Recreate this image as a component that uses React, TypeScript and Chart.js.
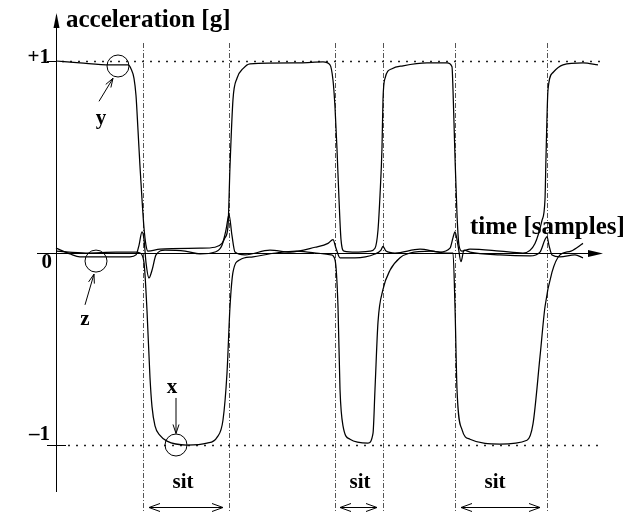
import React, { useEffect, useRef } from "react";
import { Chart, registerables } from "chart.js";
Chart.register(...registerables);

// ---- data (time in samples, acceleration in g) ----
const yTime = [0, 24, 54, 72, 75, 78, 80, 82, 84, 86, 88, 90, 92, 104, 144, 159, 166, 169, 172, 174, 177, 181, 187, 194, 244, 267, 274, 277, 279, 281, 283, 285, 288, 300, 314, 319, 322, 324, 326, 327, 329, 336, 347, 371, 391, 396, 397, 399, 401, 403, 406, 414, 444, 467, 479, 486, 489, 490, 492, 497, 507, 527, 542];
const yAccel = [1.0, 0.99, 0.98, 0.98, 0.96, 0.91, 0.82, 0.64, 0.45, 0.28, 0.13, 0.04, 0.01, 0.02, 0.025, 0.03, 0.05, 0.08, 0.14, 0.45, 0.8, 0.91, 0.96, 0.985, 0.99, 0.995, 0.98, 0.9, 0.76, 0.54, 0.28, 0.07, 0.01, 0.005, 0.01, 0.025, 0.12, 0.3, 0.55, 0.8, 0.91, 0.96, 0.975, 0.99, 0.99, 0.97, 0.85, 0.5, 0.2, 0.04, 0.01, 0.02, 0.01, 0.0, 0.05, 0.17, 0.28, 0.5, 0.85, 0.94, 0.98, 0.99, 0.98];

const xTime = [0, 30, 60, 80, 84, 88, 91, 94, 96, 99, 104, 111, 131, 151, 161, 167, 171, 174, 177, 184, 197, 220, 240, 260, 275, 279, 282, 284, 287, 294, 312, 317, 319, 322, 327, 334, 344, 354, 375, 390, 397, 399, 401, 406, 414, 444, 471, 477, 484, 489, 496, 504, 515, 527];
const xAccel = [0.01, 0.0, 0.005, 0.005, 0.0, -0.05, -0.3, -0.65, -0.8, -0.9, -0.95, -0.98, -1.0, -0.99, -0.96, -0.87, -0.625, -0.28, -0.1, -0.035, -0.02, 0.0, 0.01, 0.0, -0.01, -0.035, -0.28, -0.71, -0.9, -0.97, -0.99, -0.94, -0.71, -0.36, -0.19, -0.09, -0.025, 0.0, 0.01, 0.0, 0.0, -0.28, -0.71, -0.92, -0.97, -0.995, -0.975, -0.89, -0.54, -0.28, -0.1, -0.01, 0.01, 0.05];

const zTime = [0, 14, 24, 74, 80, 83, 86, 88, 90, 93, 96, 100, 109, 129, 144, 159, 166, 170, 173, 176, 179, 189, 214, 234, 259, 272, 277, 280, 284, 299, 319, 325, 327, 330, 339, 364, 384, 394, 397, 399, 402, 405, 408, 414, 444, 474, 484, 489, 491, 493, 496, 504, 519, 527];
const zAccel = [0.025, -0.005, -0.02, -0.02, -0.01, 0.04, 0.11, 0.07, -0.05, -0.13, -0.09, -0.01, 0.015, 0.01, -0.005, 0.005, 0.04, 0.12, 0.2, 0.09, 0.005, -0.01, 0.015, 0.005, 0.03, 0.05, 0.07, 0.025, -0.025, -0.025, -0.005, 0.015, 0.035, 0.01, 0.0, 0.02, 0.005, 0.025, 0.08, 0.11, 0.04, -0.045, 0.015, 0.005, -0.01, -0.015, 0.005, 0.07, 0.085, 0.04, -0.01, -0.02, -0.01, -0.025];

// segment boundaries (samples) and "sit" intervals
const segmentBounds = [87, 173, 279, 327, 399, 491];
const sitStart = [93, 284, 405];
const sitEnd = [167, 321, 484];
const sitLabelT = [127, 304, 439];
const sitLabel = "sit";

// level ticks
const levelValues = [1, 0, -1];
const levelLabels = ["+1", "0", "\u20131"];

// axis markers (circles with arrows)
const markerNames = ["y", "z", "x"];
const markerT = [62, 40, 120];
const markerV = [0.974, -0.042, -1.0];
const markerLabelT = [45, 29, 116];
const markerLabelV = [0.672, -0.375, -0.729];
const arrowFromT = [43, 29, 120];
const arrowFromV = [0.79, -0.27, -0.755];
const arrowToT = [57, 38, 120];
const arrowToV = [0.91, -0.11, -0.94];

const yTitle = "acceleration [g]";
const xTitle = "time [samples]";

const SERIF = '"Liberation Serif", "Times New Roman", serif';

function openHead(ctx: CanvasRenderingContext2D, fx: number, fy: number, tx: number, ty: number, len: number, half: number) {
  const a = Math.atan2(ty - fy, tx - fx);
  const ang = Math.atan2(half, len);
  const l = Math.hypot(len, half);
  ctx.beginPath();
  ctx.moveTo(tx - l * Math.cos(a - ang), ty - l * Math.sin(a - ang));
  ctx.lineTo(tx, ty);
  ctx.lineTo(tx - l * Math.cos(a + ang), ty - l * Math.sin(a + ang));
  ctx.stroke();
}

const figurePlugin = {
  id: "figure",
  beforeDatasetsDraw(chart: any) {
    const ctx: CanvasRenderingContext2D = chart.ctx;
    const xs = chart.scales.x;
    const ys = chart.scales.y;
    const x0 = xs.getPixelForValue(0);
    ctx.save();
    // dash-dot vertical segment lines
    ctx.strokeStyle = "#555";
    ctx.lineWidth = 1;
    ctx.setLineDash([5, 2, 1, 2]);
    for (const t of segmentBounds) {
      const px = Math.round(xs.getPixelForValue(t)) + 0.5;
      ctx.beginPath();
      ctx.moveTo(px, ys.top - 18);
      ctx.lineTo(px, chart.height);
      ctx.stroke();
    }
    // dotted +1 / -1 levels
    ctx.strokeStyle = "#222";
    ctx.lineWidth = 1.3;
    ctx.setLineDash([2, 6]);
    for (const v of [1, -1]) {
      const py = Math.round(ys.getPixelForValue(v)) + 0.5;
      ctx.beginPath();
      ctx.moveTo(x0 + (v > 0 ? 6 : 12), py);
      ctx.lineTo(xs.right - 3, py);
      ctx.stroke();
    }
    ctx.setLineDash([]);
    ctx.lineWidth = 1;
    ctx.strokeStyle = "#000";
    // level tick stubs
    for (const v of [1, -1]) {
      const py = Math.round(ys.getPixelForValue(v)) + 0.5;
      ctx.beginPath();
      ctx.moveTo(x0 - 9, py);
      ctx.lineTo(x0 + (v > 0 ? 0 : 10), py);
      ctx.stroke();
    }
    // y axis
    const axX = Math.round(x0) + 0.5;
    ctx.beginPath();
    ctx.moveTo(axX, ys.top - 46);
    ctx.lineTo(axX, ys.bottom + 47);
    ctx.stroke();
    ctx.fillStyle = "#000";
    ctx.beginPath();
    ctx.moveTo(axX, ys.top - 48);
    ctx.lineTo(axX - 3, ys.top - 33);
    ctx.lineTo(axX + 3, ys.top - 33);
    ctx.closePath();
    ctx.fill();
    // x axis
    const axY = Math.round(ys.getPixelForValue(0)) + 0.5;
    ctx.beginPath();
    ctx.moveTo(x0 - 19, axY);
    ctx.lineTo(xs.right - 14, axY);
    ctx.stroke();
    ctx.beginPath();
    ctx.moveTo(xs.right - 3, axY);
    ctx.lineTo(xs.right - 18, axY - 3.5);
    ctx.lineTo(xs.right - 18, axY + 3.5);
    ctx.closePath();
    ctx.fill();
    ctx.restore();
  },
  afterDatasetsDraw(chart: any) {
    const ctx: CanvasRenderingContext2D = chart.ctx;
    const xs = chart.scales.x;
    const ys = chart.scales.y;
    const x0 = xs.getPixelForValue(0);
    ctx.save();
    ctx.fillStyle = "#000";
    ctx.strokeStyle = "#000";
    ctx.lineWidth = 1;
    // titles
    ctx.textBaseline = "alphabetic";
    ctx.textAlign = "left";
    ctx.font = `bold 25px ${SERIF}`;
    ctx.fillText(yTitle, x0 + 10, ys.top - 34);
    ctx.fillText(xTitle, xs.getPixelForValue(414), ys.getPixelForValue(0) - 19);
    // level labels
    ctx.font = `bold 21px ${SERIF}`;
    ctx.textAlign = "right";
    levelValues.forEach((v, i) => {
      const py = ys.getPixelForValue(v);
      const off = v > 0 ? 2 : v < 0 ? -5 : 15;
      ctx.fillText(levelLabels[i], x0 - (v === 0 ? 4 : 6), py + off);
    });
    // markers
    ctx.font = `bold 21px ${SERIF}`;
    ctx.textAlign = "center";
    markerNames.forEach((n, i) => {
      const cx = xs.getPixelForValue(markerT[i]);
      const cy = ys.getPixelForValue(markerV[i]);
      ctx.beginPath();
      ctx.arc(cx, cy, 11, 0, Math.PI * 2);
      ctx.stroke();
      const fx = xs.getPixelForValue(arrowFromT[i]);
      const fy = ys.getPixelForValue(arrowFromV[i]);
      const tx = xs.getPixelForValue(arrowToT[i]);
      const ty = ys.getPixelForValue(arrowToV[i]);
      ctx.beginPath();
      ctx.moveTo(fx, fy);
      ctx.lineTo(tx, ty);
      ctx.stroke();
      openHead(ctx, fx, fy, tx, ty, 9, 3);
      ctx.fillText(n, xs.getPixelForValue(markerLabelT[i]), ys.getPixelForValue(markerLabelV[i]));
    });
    // sit intervals
    const labelY = ys.bottom + 43;
    const arrowY = ys.bottom + 62.5;
    sitStart.forEach((s, i) => {
      const a = xs.getPixelForValue(s);
      const b = xs.getPixelForValue(sitEnd[i]);
      ctx.beginPath();
      ctx.moveTo(a, arrowY);
      ctx.lineTo(b, arrowY);
      ctx.stroke();
      openHead(ctx, b, arrowY, a, arrowY, 11, 4);
      openHead(ctx, a, arrowY, b, arrowY, 11, 4);
      ctx.fillText(sitLabel, xs.getPixelForValue(sitLabelT[i]), labelY);
    });
    ctx.restore();
  },
};

function series(t: number[], v: number[]) {
  return t.map((x, i) => ({ x, y: v[i] }));
}

export default function App() {
  const ref = useRef<HTMLCanvasElement>(null);
  useEffect(() => {
    if (!ref.current) return;
    const common = {
      borderColor: "#000",
      borderWidth: 1.25,
      pointRadius: 0,
      fill: false,
      cubicInterpolationMode: "monotone" as const,
    };
    const chart = new Chart(ref.current, {
      type: "line",
      data: {
        datasets: [
          { label: "y", data: series(yTime, yAccel), ...common },
          { label: "x", data: series(xTime, xAccel), ...common },
          { label: "z", data: series(zTime, zAccel), ...common },
        ],
      },
      options: {
        animation: false,
        responsive: false,
        devicePixelRatio: 1,
        clip: false as any,
        layout: { padding: { left: 56, right: 24, top: 61, bottom: 67 } },
        plugins: { legend: { display: false }, tooltip: { enabled: false } },
        scales: {
          x: { type: "linear", min: 0, max: 550, display: false },
          y: { type: "linear", min: -1, max: 1, display: false },
        },
      },
      plugins: [figurePlugin],
    });
    return () => chart.destroy();
  }, []);
  return (
    <div style={{ position: "absolute", left: 0, top: 0, width: 630, height: 512, background: "#fff" }}>
      <canvas ref={ref} width={630} height={512} />
    </div>
  );
}
